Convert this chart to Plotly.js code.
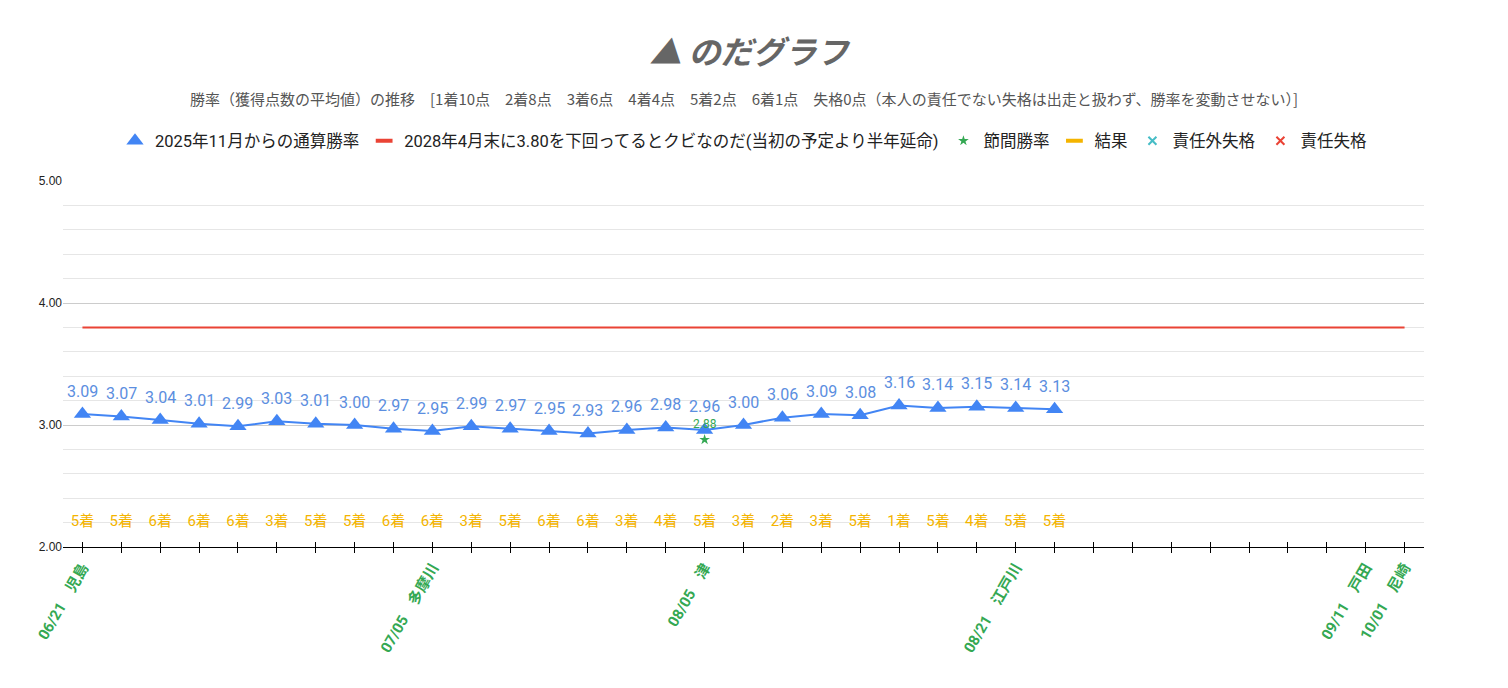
<!DOCTYPE html>
<html>
<head>
<meta charset="utf-8">
<script src="https://cdn.plot.ly/plotly-3.0.1.min.js"></script>
<style>
  html, body { margin: 0; padding: 0; background: #fff; }
  #chart { width: 1508px; height: 688px; }
</style>
</head>
<body>
<div id="chart"></div>
<script>
// のだグラフ — running win-rate line, 3.80 cut line, per-race results.

const slotLabels = [
  "06/21\u3000児島", "", "", "", "", "", "", "", "", "07/05\u3000多摩川",
  "", "", "", "", "", "", "08/05\u3000津", "", "", "",
  "", "", "", "", "08/21\u3000江戸川", "", "", "", "", "",
  "", "", "", "09/11\u3000戸田", "10/01\u3000尼崎"
];

const winRate = [
  3.09, 3.07, 3.04, 3.01, 2.99, 3.03, 3.01, 3.00, 2.97, 2.95,
  2.99, 2.97, 2.95, 2.93, 2.96, 2.98, 2.96, 3.00, 3.06, 3.09,
  3.08, 3.16, 3.14, 3.15, 3.14, 3.13
];

const results = [
  "5着", "5着", "6着", "6着", "6着", "3着", "5着", "5着", "6着", "6着",
  "3着", "5着", "6着", "6着", "3着", "4着", "5着", "3着", "2着", "3着",
  "5着", "1着", "5着", "4着", "5着", "5着"
];
const resultRow = 2.2;   // results are written along this row

const sessionSlots = [16];
const sessionRate = [2.88];

const cutLine = 3.80;

const BLUE = "#4285f4", RED = "#ea4335", GREEN = "#34a853",
      YELLOW = "#f4b400", CYAN = "#46bdc6";
const FONT = "Roboto, Arial, 'Noto Sans CJK JP', sans-serif";
const JP = "'Noto Sans CJK JP', sans-serif";
const SP = "\u3000";

const slots = slotLabels.map((_, i) => i);
const raceX = winRate.map((_, i) => i);
const lastSlot = slots[slots.length - 1];

const traces = [
  { type: "scatter", mode: "lines", x: raceX, y: winRate,
    line: { color: BLUE, width: 2 }, showlegend: false },
  { type: "scatter", mode: "markers", x: raceX, y: winRate,
    name: "2025年11月からの通算勝率",
    marker: { symbol: "triangle-up", size: 15, color: BLUE } },
  { type: "scatter", mode: "lines", x: [0, lastSlot], y: [cutLine, cutLine],
    xaxis: "x2", line: { color: RED, width: 2 }, showlegend: false },
  { type: "scatter", mode: "markers", x: [null], y: [null], xaxis: "x2",
    name: "2028年4月末に3.80を下回ってるとクビなのだ(当初の予定より半年延命)",
    marker: { symbol: "line-ew-open", size: 12, color: RED, line: { color: RED, width: 4 } } },
  { type: "scatter", mode: "markers", x: sessionSlots, y: sessionRate,
    name: "節間勝率",
    marker: { symbol: "star", size: 8, color: GREEN } },
  { type: "scatter", mode: "text", x: raceX, y: raceX.map(() => resultRow),
    text: results, showlegend: false,
    textfont: { family: FONT, size: 15, color: YELLOW } },
  { type: "scatter", mode: "markers", x: [null], y: [null], name: "結果",
    marker: { symbol: "line-ew-open", size: 12, color: YELLOW, line: { color: YELLOW, width: 4 } } },
  { type: "scatter", mode: "markers", x: [null], y: [null], name: "責任外失格",
    marker: { symbol: "x-thin-open", size: 8, color: CYAN, line: { color: CYAN, width: 2 } } },
  { type: "scatter", mode: "markers", x: [null], y: [null], name: "責任失格",
    marker: { symbol: "x-thin-open", size: 8, color: RED, line: { color: RED, width: 2 } } }
];

// value labels above the running win-rate markers
const rateNotes = raceX.map(i => ({
  x: i, y: winRate[i], xref: "x", yref: "y", yshift: 23,
  text: winRate[i].toFixed(2), showarrow: false,
  font: { family: FONT, size: 16, color: "#5b8ee0" }
}));

// small labels above the session win-rate stars
const sessionNotes = sessionSlots.map((s, i) => ({
  x: s, y: sessionRate[i], xref: "x", yref: "y", yshift: 16, borderpad: 0,
  text: sessionRate[i].toFixed(2), showarrow: false,
  font: { family: FONT, size: 12, color: GREEN }
}));

const subtitle = "勝率（獲得点数の平均値）の推移" + SP + "[1着10点" + SP + "2着8点" + SP + "3着6点" + SP +
  "4着4点" + SP + "5着2点" + SP + "6着1点" + SP + "失格0点（本人の責任でない失格は出走と扱わず、勝率を変動させない）]";

const layout = {
  width: 1508, height: 688,
  margin: { l: 63, r: 84, t: 181, b: 141 },
  paper_bgcolor: "#fff", plot_bgcolor: "#fff",
  font: { family: FONT, color: "#222" },
  title: {
    text: "▲ のだグラフ",
    font: { family: JP, size: 32, color: "#666", weight: "bold", style: "italic" },
    x: 749 / 1508, xanchor: "center", y: 1 - 53 / 688, yanchor: "middle"
  },
  annotations: [{
    text: subtitle,
    xref: "paper", yref: "paper", x: 0.5, y: 1 + (181 - 99) / 366,
    xanchor: "center", yanchor: "middle", showarrow: false,
    font: { family: JP, size: 15, color: "#555" }
  }].concat(rateNotes, sessionNotes),
  showlegend: true,
  legend: {
    orientation: "h", x: 0.5, xanchor: "center", y: 1 + (181 - 141) / 366, yanchor: "middle",
    font: { family: FONT, size: 16.5, color: "#222" }, itemwidth: 30, traceorder: "normal"
  },
  xaxis: {
    range: [-0.5, lastSlot + 0.5], tickmode: "array", tickvals: slots, ticktext: slotLabels,
    tickangle: -60, showgrid: false, zeroline: false,
    showline: true, linecolor: "#000", linewidth: 1,
    ticks: "outside", ticklen: 5, tickcolor: "#000",
    tickfont: { family: FONT, size: 15, color: GREEN, weight: "bold" }
  },
  xaxis2: {
    overlaying: "x", matches: "x", tickmode: "array", tickvals: slots,
    showticklabels: false, showgrid: false, zeroline: false,
    ticks: "inside", ticklen: 5, tickcolor: "#000"
  },
  yaxis: {
    range: [2, 5], tickmode: "linear", tick0: 2, dtick: 1, tickformat: ".2f",
    gridcolor: "#cccccc", zeroline: false, showline: false,
    tickfont: { family: "Arial, 'Liberation Sans', sans-serif", size: 12, color: "#222" },
    minor: { dtick: 0.2, showgrid: true, gridcolor: "#e6e6e6" }
  }
};

Plotly.newPlot("chart", traces, layout, { displayModeBar: false, staticPlot: true });
</script>
</body>
</html>
